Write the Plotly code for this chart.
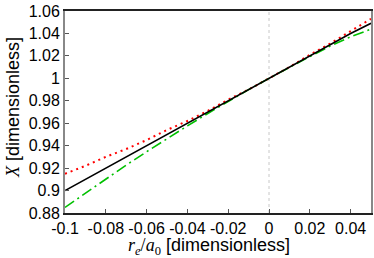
import plotly.graph_objects as go

x_vals = [-0.10, -0.09, -0.08, -0.07, -0.06, -0.05, -0.04, -0.03, -0.02, -0.01,
          0.00, 0.01, 0.02, 0.03, 0.04, 0.05]
black_vals = [0.900, 0.910, 0.920, 0.930, 0.940, 0.950, 0.960, 0.970, 0.980, 0.990,
              1.000, 1.010, 1.020, 1.030, 1.040, 1.049]
red_vals = [0.915, 0.922, 0.930, 0.937, 0.945, 0.954, 0.962, 0.971, 0.981, 0.990,
            1.000, 1.010, 1.021, 1.031, 1.042, 1.053]
green_vals = [0.885, 0.8978, 0.9104, 0.9227, 0.9346, 0.9463, 0.9576, 0.9687, 0.9794, 0.9899,
              1.000, 1.0099, 1.0194, 1.0287, 1.0370, 1.0438]

x_ticks = [-0.1, -0.08, -0.06, -0.04, -0.02, 0, 0.02, 0.04]
x_ticklabels = ["-0.1", "-0.08", "-0.06", "-0.04", "-0.02", "0", "0.02", "0.04"]
y_ticks = [0.88, 0.9, 0.92, 0.94, 0.96, 0.98, 1.0, 1.02, 1.04, 1.06]
y_ticklabels = ["0.88", "0.9", "0.92", "0.94", "0.96", "0.98", "1", "1.02", "1.04", "1.06"]

fig = go.Figure()
fig.add_trace(go.Scatter(x=x_vals, y=red_vals, mode="lines",
                         line=dict(color="#ff0000", width=2, dash="2px,4px"),
                         showlegend=False))
fig.add_trace(go.Scatter(x=x_vals, y=green_vals, mode="lines",
                         line=dict(color="#00c000", width=1.6, dash="11px,4px,2px,4px"),
                         showlegend=False))
fig.add_trace(go.Scatter(x=x_vals, y=black_vals, mode="lines",
                         line=dict(color="#000000", width=1.6),
                         showlegend=False))

fig.add_shape(type="line", xref="x", yref="paper", x0=0, x1=0, y0=0, y1=1,
              line=dict(color="#c8c8c8", width=1, dash="dot"), layer="below")

fig.add_annotation(
    xref="paper", yref="paper", x=0.47, y=0, yshift=-33, xanchor="center", yanchor="middle",
    text="<span style='font-family:Liberation Serif'><i>r<sub>e</sub></i>/<i>a</i><sub>0</sub></span> [dimensionless]",
    showarrow=False, font=dict(size=18, color="#000"))
fig.add_annotation(
    xref="paper", yref="paper", x=0, xshift=-52, y=0.52, xanchor="center", yanchor="middle",
    textangle=-90,
    text="<span style='font-family:Liberation Serif'><i>X</i></span> [dimensionless]",
    showarrow=False, font=dict(size=18, color="#000"))

fig.update_layout(
    width=374, height=258,
    margin=dict(l=65, r=3, t=11, b=45),
    paper_bgcolor="white", plot_bgcolor="white",
    font=dict(family="Liberation Sans, Arial, sans-serif", size=16, color="#000"),
    xaxis=dict(range=[-0.1, 0.05], tickvals=x_ticks, ticktext=x_ticklabels,
               ticks="inside", ticklen=4, tickcolor="#555", showgrid=False, zeroline=False,
               showline=True, linecolor="#222", linewidth=1.5, mirror=True,
               tickfont=dict(size=16), automargin=False),
    yaxis=dict(range=[0.88, 1.06], tickvals=y_ticks, ticktext=y_ticklabels,
               ticks="inside", ticklen=4, tickcolor="#555", showgrid=False, zeroline=False,
               showline=True, linecolor="#888", linewidth=2, mirror=True,
               tickfont=dict(size=16), automargin=False),
)

fig.write_html("out.html", config={"displayModeBar": False},
               post_script="document.body.style.margin='0';document.body.style.overflow='hidden';")
